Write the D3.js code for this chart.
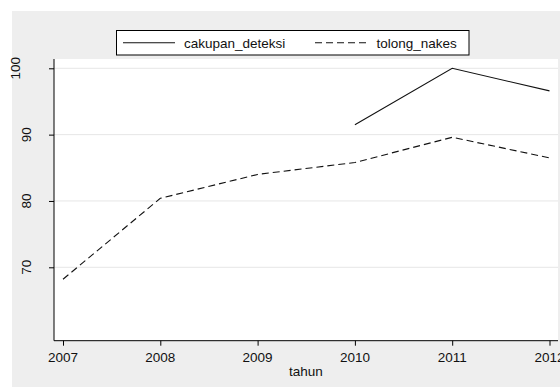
<!DOCTYPE html>
<html><head><meta charset="utf-8">
<script src="https://cdn.jsdelivr.net/npm/d3@7"></script>
<style>html,body{margin:0;padding:0;background:#fff;}svg{display:block;font-family:"Liberation Sans",Arial,sans-serif;}</style>
</head><body>
<svg id="c" width="560" height="387"></svg>
<script>
const years = [2007, 2008, 2009, 2010, 2011, 2012];
const cakupan_deteksi = [null, null, null, 91.5, 100, 96.6];
const tolong_nakes = [68.2, 80.4, 84.0, 85.8, 89.6, 86.5];
const yTicks = [70, 80, 90, 100];
const seriesNames = ["cakupan_deteksi", "tolong_nakes"];
const xTitle = "tahun";

const FS = 13.5;
const svg = d3.select("#c");
svg.append("rect").attr("x", 12).attr("y", 11).attr("width", 548).attr("height", 376).attr("fill", "#eeeeee");

const plot = {left: 54, right: 558, top: 59, bottom: 340.7};
svg.append("rect").attr("x", plot.left).attr("y", plot.top)
  .attr("width", plot.right - plot.left).attr("height", plot.bottom - plot.top).attr("fill", "#fff");

const x = d3.scaleLinear().domain([2007, 2012]).range([63, 549.5]);
const y = d3.scaleLinear().domain([70, 100]).range([267.3, 68.3]);

// gridlines
svg.append("g").selectAll("line").data(yTicks).join("line")
  .attr("x1", plot.left).attr("x2", plot.right)
  .attr("y1", d => y(d)).attr("y2", d => y(d))
  .attr("stroke", "#e6e6e6").attr("stroke-width", 1);

// y axis
const yAxis = svg.append("g").attr("transform", `translate(${plot.left},0)`)
  .call(d3.axisLeft(y).tickValues(yTicks).tickSize(5).tickFormat(""));
yAxis.select(".domain").remove();
yAxis.selectAll(".tick line").attr("stroke", "#000");
svg.append("g").selectAll("text").data(yTicks).join("text")
  .attr("font-size", FS).attr("fill", "#111").attr("text-anchor", "middle")
  .attr("transform", d => `translate(${d === 100 ? 19.5 : 31},${y(d)}) rotate(-90)`)
  .text(d => d3.format("d")(d));
svg.append("line").attr("x1", plot.left).attr("x2", plot.left).attr("y1", plot.top).attr("y2", plot.bottom)
  .attr("stroke", "#000").attr("stroke-width", 1);

// x axis
const xAxis = svg.append("g").attr("transform", `translate(0,${plot.bottom})`)
  .call(d3.axisBottom(x).tickValues(years).tickSize(5).tickFormat(""));
xAxis.select(".domain").remove();
xAxis.selectAll(".tick line").attr("stroke", "#000");
svg.append("g").selectAll("text").data(years).join("text")
  .attr("x", d => x(d)).attr("y", 362.3).attr("text-anchor", "middle")
  .attr("font-size", FS).attr("fill", "#111").text(d => d3.format("d")(d));
svg.append("line").attr("x1", plot.left).attr("x2", plot.right).attr("y1", plot.bottom).attr("y2", plot.bottom)
  .attr("stroke", "#000").attr("stroke-width", 1);

svg.append("text").attr("x", (plot.left + plot.right) / 2).attr("y", 375.5)
  .attr("text-anchor", "middle").attr("font-size", FS).attr("fill", "#111").text(xTitle);

// lines
const line = d3.line().defined(d => d[1] != null).x(d => x(d[0])).y(d => y(d[1]));
const dashes = [null, "7,4"];
[cakupan_deteksi, tolong_nakes].forEach((vals, i) => {
  svg.append("path").datum(years.map((yr, j) => [yr, vals[j]]))
    .attr("d", line).attr("fill", "none").attr("stroke", "#111").attr("stroke-width", 1.1)
    .attr("stroke-dasharray", dashes[i]);
});

// legend
const lg = svg.append("g");
lg.append("rect").attr("x", 116.5).attr("y", 30.5).attr("width", 352.5).attr("height", 24.5)
  .attr("fill", "#fff").attr("stroke", "#000").attr("stroke-width", 1);
const legX = [[123, 175, 184], [315, 367, 376.5]];
seriesNames.forEach((n, i) => {
  lg.append("line").attr("x1", legX[i][0]).attr("x2", legX[i][1]).attr("y1", 42.7).attr("y2", 42.7)
    .attr("stroke", "#111").attr("stroke-width", 1.1).attr("stroke-dasharray", dashes[i]);
  lg.append("text").attr("x", legX[i][2]).attr("y", 47.5).attr("font-size", FS).attr("fill", "#111").text(n);
});
</script>
</body></html>
